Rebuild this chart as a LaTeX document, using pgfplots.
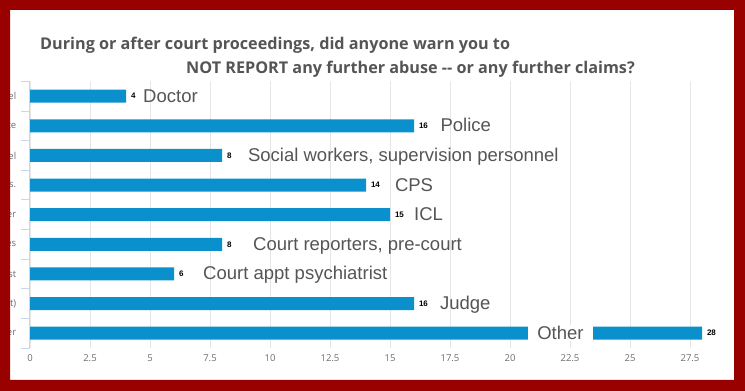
\documentclass[border=0pt]{standalone}
\usepackage{pgfplots}
\pgfplotsset{compat=1.18}
\usepackage{fontspec}
\setmainfont{Liberation Sans}
\newfontfamily\titlefont{Open Sans}
\definecolor{frame}{RGB}{153,0,0}
\definecolor{barc}{RGB}{10,145,205}
\definecolor{txt}{RGB}{85,85,85}
\definecolor{tickc}{RGB}{110,110,110}
\definecolor{gridc}{RGB}{230,230,230}
\definecolor{axc}{RGB}{204,214,235}
\newcommand{\annot}{\fontsize{18.5}{20}\selectfont\color{txt}}
\begin{document}
\begin{tikzpicture}[x=1pt,y=1pt]
\fill[white] (0,0) rectangle (745,391);
\begin{axis}[
  /pgf/number format/assume math mode=true,
  at={(30pt,43pt)}, anchor=south west,
  scale only axis, width=684pt, height=266.6pt,
  xbar, bar width=13pt,
  xmin=0, xmax=28.5, ymin=-0.5, ymax=8.5, y dir=reverse,
  axis line style={draw=none},
  xtick={0,2.5,5,7.5,10,12.5,15,17.5,20,22.5,25,27.5},
  xticklabels={0,2.5,5,7.5,10,12.5,15,17.5,20,22.5,25,27.5},
  xtick style={draw=none},
  xmajorgrids, major grid style={draw=gridc, line width=0.6pt},
  xticklabel style={font=\titlefont\fontsize{9.5}{10}\selectfont, text=tickc, yshift=-3pt},
  ytick={0,1,2,3,4,5,6,7,8},
  yticklabels={el,te,el,s.,er,es,st,t),er},
  ytick style={draw=none},
  yticklabel style={font=\titlefont\fontsize{9.5}{10}\selectfont, text=tickc, anchor=east, xshift=-6pt},
  nodes near coords,
  nodes near coords style={font=\bfseries\fontsize{8}{9}\selectfont, text=black, anchor=west, xshift=1.5pt},
  clip=false,
]
\addplot[fill=barc, draw=none] coordinates {(4,0) (16,1) (8,2) (14,3) (15,4) (8,5) (6,6) (16,7) (28,8)};
\draw[axc, line width=1pt] (axis cs:0,-0.5) -- (axis cs:0,8.5);
\pgfplotsinvokeforeach{-0.5,0.5,1.5,2.5,3.5,4.5,5.5,6.5,7.5,8.5}{
  \draw[axc, line width=1pt] (axis cs:0,#1) -- ++(-9pt,0pt);
}
\node[anchor=base west, inner sep=0, font=\annot] at (axis cs:4.71,0) [yshift=-6pt] {Doctor};
\node[anchor=base west, inner sep=0, font=\annot] at (axis cs:17.1,1) [yshift=-6pt] {Police};
\node[anchor=base west, inner sep=0, font=\annot] at (axis cs:9.08,2) [yshift=-6pt] {Social workers, supervision personnel};
\node[anchor=base west, inner sep=0, font=\annot] at (axis cs:15.2,3) [yshift=-6pt] {CPS};
\node[anchor=base west, inner sep=0, font=\annot] at (axis cs:16.0,4) [yshift=-6pt] {ICL};
\node[anchor=base west, inner sep=0, font=\annot] at (axis cs:9.29,5) [yshift=-6pt] {Court reporters, pre-court};
\node[anchor=base west, inner sep=0, font=\annot] at (axis cs:7.21,6) [yshift=-6pt] {Court appt psychiatrist};
\node[anchor=base west, inner sep=0, font=\annot] at (axis cs:17.08,7) [yshift=-6pt] {Judge};
\node[fill=white, inner sep=0, minimum width=65pt, minimum height=16pt, font=\annot] at (axis cs:22.1,8) {Other};
\end{axis}
\node[anchor=base west, inner sep=0, font=\titlefont\bfseries\fontsize{16.2}{18}\selectfont, text=txt] at (40,341) {During or after court proceedings, did anyone warn you to};
\node[anchor=base west, inner sep=0, font=\titlefont\bfseries\fontsize{16.2}{18}\selectfont, text=txt] at (186,317) {NOT REPORT any further abuse -- or any further claims?};
\fill[frame, even odd rule] (0,0) rectangle (745,391) (10,11) rectangle (734,381);
\end{tikzpicture}
\end{document}
